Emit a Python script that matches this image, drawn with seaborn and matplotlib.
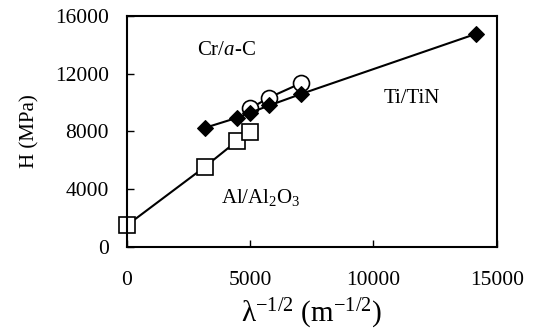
import matplotlib
matplotlib.use("Agg")
import matplotlib.pyplot as plt
import seaborn as sns
import pandas as pd

# Data
ti_x = [3162, 4472, 5000, 5774, 7071, 14142]
ti_y = [8250, 8950, 9300, 9800, 10600, 14750]
cr_x = [5000, 5774, 7071]
cr_y = [9600, 10350, 11350]
al_x = [0, 3162, 4472, 5000]
al_y = [1500, 5550, 7350, 7950]
xticks = [0, 5000, 10000, 15000]
yticks = [0, 4000, 8000, 12000, 16000]

sns.set_theme(style="white")
plt.rcParams['font.family'] = ['Liberation Serif', 'DejaVu Serif']
plt.rcParams['mathtext.fontset'] = 'custom'
plt.rcParams['mathtext.rm'] = 'Liberation Serif'
plt.rcParams['mathtext.it'] = 'Liberation Serif:italic'

fig = plt.figure(figsize=(5.33, 3.32), dpi=100)
ax = fig.add_axes([0.238, 0.256, 0.694, 0.696])

df_cr = pd.DataFrame({"x": cr_x, "y": cr_y})
df_ti = pd.DataFrame({"x": ti_x, "y": ti_y})
df_al = pd.DataFrame({"x": al_x, "y": al_y})

sns.lineplot(data=df_cr, x="x", y="y", ax=ax, sort=False, color="black", lw=1.5,
             marker="o", markersize=11.5, markerfacecolor="white", markeredgecolor="black",
             markeredgewidth=1.2)
sns.lineplot(data=df_ti, x="x", y="y", ax=ax, sort=False, color="black", lw=1.5,
             marker="D", markersize=8.5, markerfacecolor="black", markeredgecolor="black")
sns.lineplot(data=df_al, x="x", y="y", ax=ax, sort=False, color="black", lw=1.5,
             marker="s", markersize=11, markerfacecolor="white", markeredgecolor="black",
             markeredgewidth=1.2, clip_on=False)

ax.set_xlim(0, 15000)
ax.set_ylim(0, 16000)
ax.set_xticks(xticks)
ax.set_yticks(yticks)
ax.set_xticklabels([str(v) for v in xticks])
ax.set_yticklabels([str(v) for v in yticks])
ax.tick_params(axis='both', direction='in', length=5, width=1, color='black',
               labelsize=15.5, labelcolor='black')
ax.tick_params(axis='x', bottom=True, pad=17)
ax.tick_params(axis='y', left=True, pad=13)
for s in ax.spines.values():
    s.set_color('black')
    s.set_linewidth(1.5)

ax.set_xlabel(r"λ$^{\mathregular{-1/2}}$ (m$^{\mathregular{-1/2}}$)", fontsize=21, color='black', labelpad=5)
ax.set_ylabel("H (MPa)", fontsize=15, color='black', labelpad=11)

ax.text(0.19, 0.83, r"Cr/$\mathit{a}$-C", transform=ax.transAxes, fontsize=15, color='black')
ax.text(0.693, 0.625, "Ti/TiN", transform=ax.transAxes, fontsize=15, color='black')
ax.text(0.255, 0.19, r"Al/Al$_{\mathregular{2}}$O$_{\mathregular{3}}$", transform=ax.transAxes, fontsize=15, color='black')

fig.savefig("out.png", dpi=100)
